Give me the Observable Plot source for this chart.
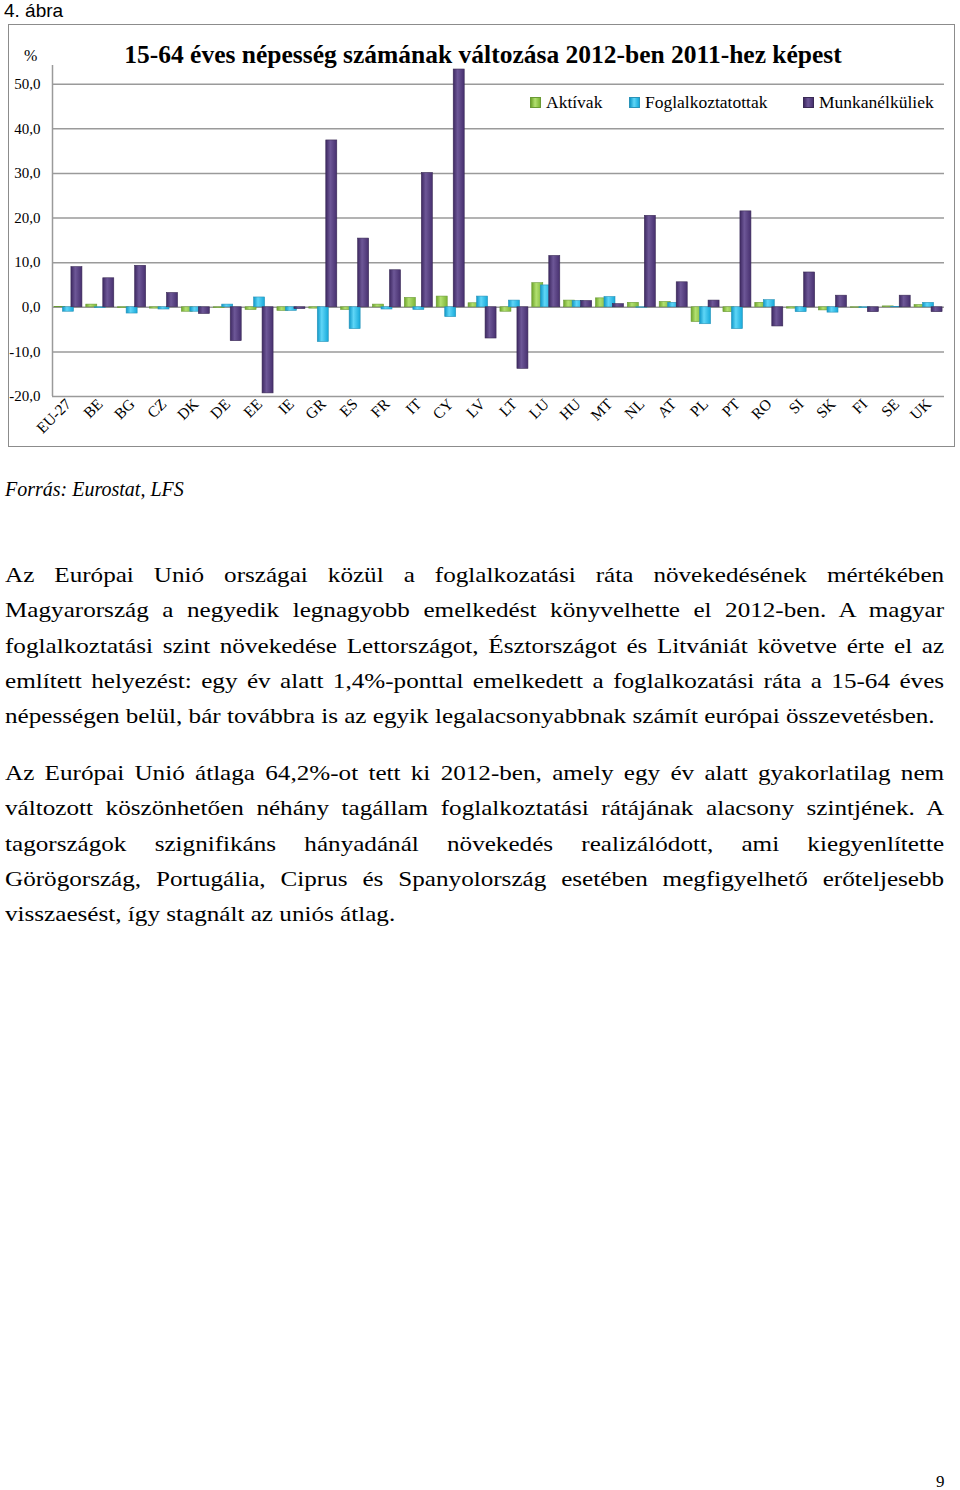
<!DOCTYPE html>
<html><head><meta charset="utf-8">
<script src="https://cdn.jsdelivr.net/npm/d3@7"></script>
<script src="https://cdn.jsdelivr.net/npm/@observablehq/plot@0.6"></script>
<style>
body{margin:0;background:#fff;}
#page{position:relative;width:960px;height:1490px;overflow:hidden;font-family:"Liberation Serif",serif;color:#000;}
.abs{position:absolute;white-space:nowrap;}
#fig{position:absolute;left:0;top:0;font-family:"Liberation Sans",sans-serif;font-size:19px;line-height:22px;left:4px;}
#frame{position:absolute;left:8px;top:24px;width:947px;height:423px;border:1.5px solid #8c8c8c;box-sizing:border-box;}
#chart{position:absolute;left:0;top:24px;}
#title{position:absolute;left:0;width:966px;text-align:center;top:42px;font-weight:bold;font-size:25.5px;line-height:25px;}
#pct{left:24px;top:47px;font-size:16px;}
.leg{position:absolute;top:93px;font-size:17.5px;line-height:18px;display:flex;align-items:center;}
.sw{width:9px;height:9px;margin-right:5px;}
#src{left:5px;top:478px;font-style:italic;font-size:20px;}
.body{position:absolute;left:5px;width:822px;font-size:22px;line-height:35.3px;transform:scaleX(1.1425);transform-origin:0 0;}
.body div{white-space:nowrap;}
.body div.j{text-align:justify;text-align-last:justify;white-space:normal;}
#pn{left:936px;top:1472px;font-size:17px;}
</style></head><body><div id="page">
<div id="fig">4. ábra</div>
<div id="frame"></div>
<div id="chart"></div>
<div id="title">15-64 éves népesség számának változása 2012-ben 2011-hez képest</div>
<div class="abs" id="pct">%</div>
<div id="legend"></div>
<div class="abs" id="src">Forrás: Eurostat, LFS</div>
<div class="body" id="p1" style="top:557px"></div>
<div class="body" id="p2" style="top:755px"></div>
<div class="abs" id="pn">9</div>
</div>
<script>
const countries = ["EU-27","BE","BG","CZ","DK","DE","EE","IE","GR","ES","FR","IT","CY","LV","LT","LU","HU","MT","NL","AT","PL","PT","RO","SI","SK","FI","SE","UK"];
const aktivak = [0.1, 0.6, -0.2, -0.3, -1.0, -0.2, -0.6, -0.8, -0.3, -0.6, 0.6, 2.1, 2.4, 0.9, -1.0, 5.4, 1.5, 2.0, 1.0, 1.2, -3.3, -1.1, 1.0, -0.3, -0.7, -0.1, 0.2, 0.5];
const foglalkoztatottak = [-1.0, -0.2, -1.4, -0.5, -1.0, 0.6, 2.2, -0.8, -7.8, -4.9, -0.5, -0.6, -2.2, 2.4, 1.5, 4.9, 1.4, 2.3, -0.1, 1.0, -3.8, -4.9, 1.6, -1.1, -1.2, -0.2, 0.1, 1.0];
const munkanelkuliek = [9.0, 6.5, 9.3, 3.2, -1.5, -7.6, -19.3, -0.4, 37.4, 15.4, 8.3, 30.1, 53.3, -7.0, -13.8, 11.5, 1.4, 0.7, 20.5, 5.6, 1.5, 21.5, -4.3, 7.8, 2.6, -1.1, 2.6, -1.1];
const yTicks = [-20, -10, 0, 10, 20, 30, 40, 50];
const seriesNames = ["Aktívak", "Foglalkoztatottak", "Munkanélküliek"];
const seriesColors = [["#6ea42c","#b2e070","#7db536"],["#0f97c8","#5fd6f7","#16a9da"],["#3e2962","#6d5797","#47306f"]];
const seriesStroke = ["#6a9a35","#2a93b8","#3a2a55"];

const p1Lines = [
 "Az Európai Unió országai közül a foglalkozatási ráta növekedésének mértékében",
 "Magyarország a negyedik legnagyobb emelkedést könyvelhette el 2012-ben. A magyar",
 "foglalkoztatási szint növekedése Lettországot, Észtországot és Litvániát követve érte el az",
 "említett helyezést: egy év alatt 1,4%-ponttal emelkedett a foglalkozatási ráta a 15-64 éves",
 "népességen belül, bár továbbra is az egyik legalacsonyabbnak számít európai összevetésben."
];
const p2Lines = [
 "Az Európai Unió átlaga 64,2%-ot tett ki 2012-ben, amely egy év alatt gyakorlatilag nem",
 "változott köszönhetően néhány tagállam foglalkoztatási rátájának alacsony szintjének. A",
 "tagországok szignifikáns hányadánál növekedés realizálódott, ami kiegyenlítette",
 "Görögország, Portugália, Ciprus és Spanyolország esetében megfigyelhető erőteljesebb",
 "visszaesést, így stagnált az uniós átlag."
];
function fillPara(id, lines){
  const el = document.getElementById(id);
  lines.forEach((t,i)=>{
    const d = document.createElement("div");
    d.textContent = t;
    if (i < lines.length-1) d.className = "j";
    el.appendChild(d);
  });
}
fillPara("p1", p1Lines);
fillPara("p2", p2Lines);

// legend
const legPos = [530, 629, 803];
const legend = document.getElementById("legend");
seriesNames.forEach((n,i)=>{
  const d = document.createElement("div");
  d.className = "leg";
  d.style.left = legPos[i] + "px";
  const s = document.createElement("span");
  s.className = "sw";
  s.style.background = `linear-gradient(90deg, ${seriesColors[i][0]}, ${seriesColors[i][1]} 45%, ${seriesColors[i][2]})`;
  s.style.border = "0.5px solid " + seriesStroke[i];
  d.appendChild(s);
  d.appendChild(document.createTextNode(n));
  legend.appendChild(d);
});

const W = 955, H = 423, ml = 52, mr = 11, mt = 41, mb = 51;
const bw = (W - ml - mr) / countries.length;
const half = bw / 2, barW = 11, step = 8.5;
function insets(off){ const c = half + off; return {insetLeft: c - barW/2, insetRight: bw - (c + barW/2)}; }
const rows = vals => countries.map((c,i) => ({country: c, value: vals[i]}));
const gradIds = ["gGreen","gCyan","gPurple"];
const seriesData = [aktivak, foglalkoztatottak, munkanelkuliek];
const offs = [-step, 0, step];

const svg = Plot.plot({
  width: W, height: H,
  marginLeft: ml, marginRight: mr, marginTop: mt, marginBottom: mb,
  style: {fontFamily: "Liberation Serif, serif", fontSize: "14px", background: "transparent", overflow: "visible", color: "#000"},
  x: {type: "band", domain: countries, padding: 0, round: false, label: null},
  y: {domain: [-20, 54.2], ticks: yTicks, label: null},
  marks: [
    Plot.ruleY(yTicks, {stroke: "#9a9a9a", strokeWidth: 1.5}),
    ...seriesData.map((vals,i) => Plot.barY(rows(vals), {x: "country", y: "value", fill: `url(#${gradIds[i]})`, stroke: seriesStroke[i], strokeWidth: 0.6, ...insets(offs[i])})),
    Plot.ruleX([countries[0]], {dx: -half, stroke: "#9a9a9a", strokeWidth: 1.5}),
    Plot.axisY({ticks: yTicks, tickSize: 0, tickPadding: 12, tickFormat: d => d.toFixed(1).replace(".", ","), fontSize: 15, label: null}),
    Plot.axisX({tickSize: 0, tickRotate: -45, tickPadding: 5, fontSize: 15.5, label: null})
  ]
});
const defs = d3.select(svg).insert("defs", ":first-child");
gradIds.forEach((id,i)=>{
  const g = defs.append("linearGradient").attr("id", id).attr("x1","0").attr("x2","1").attr("y1","0").attr("y2","0");
  g.append("stop").attr("offset","0%").attr("stop-color", seriesColors[i][0]);
  g.append("stop").attr("offset","40%").attr("stop-color", seriesColors[i][1]);
  g.append("stop").attr("offset","100%").attr("stop-color", seriesColors[i][2]);
});
document.getElementById("chart").appendChild(svg);
</script>
</body></html>
